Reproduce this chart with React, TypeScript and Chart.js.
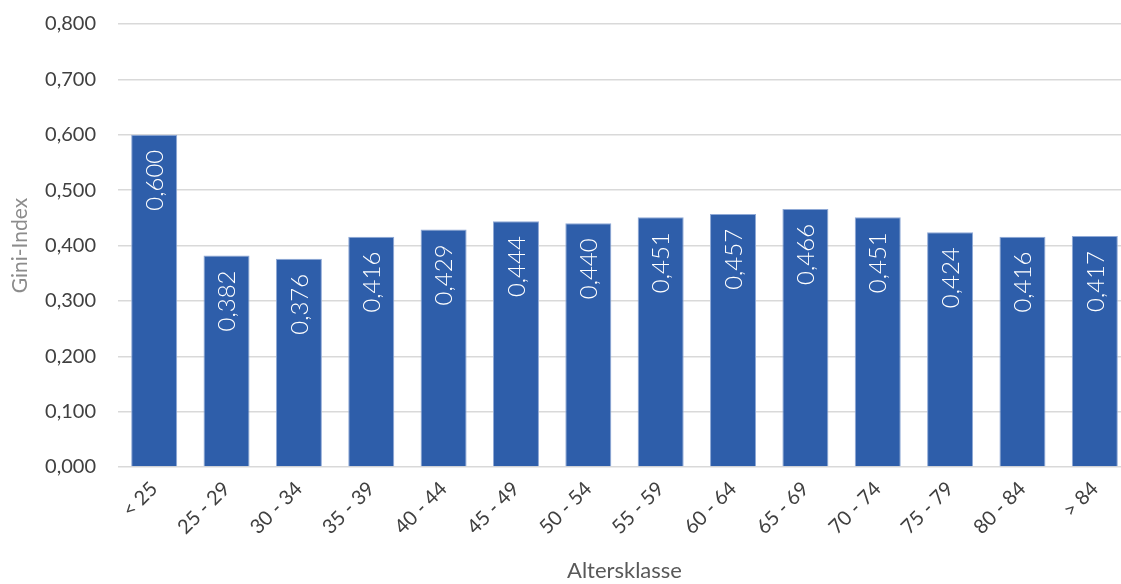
import React, { useEffect, useRef } from "react";
import { Chart, registerables } from "chart.js";

Chart.register(...registerables);

const categories = ["< 25", "25 - 29", "30 - 34", "35 - 39", "40 - 44", "45 - 49", "50 - 54", "55 - 59", "60 - 64", "65 - 69", "70 - 74", "75 - 79", "80 - 84", "> 84"];
const giniValues = [0.6, 0.382, 0.376, 0.416, 0.429, 0.444, 0.44, 0.451, 0.457, 0.466, 0.451, 0.424, 0.416, 0.417];
const yTicks = [0, 0.1, 0.2, 0.3, 0.4, 0.5, 0.6, 0.7, 0.8];

const FONT = "Lato";
const fmt = (v: number) => v.toFixed(3).replace(".", ",");

const barLabels = {
  id: "barLabels",
  afterDatasetsDraw(chart: any) {
    const ctx = chart.ctx;
    const meta = chart.getDatasetMeta(0);
    ctx.save();
    ctx.fillStyle = "#ffffff";
    ctx.font = `300 24px ${FONT}`;
    ctx.textAlign = "right";
    ctx.textBaseline = "middle";
    meta.data.forEach((bar: any, i: number) => {
      ctx.save();
      ctx.translate(bar.x, bar.y + 15);
      ctx.rotate(-Math.PI / 2);
      ctx.fillText(fmt(giniValues[i]), 0, 1);
      ctx.restore();
    });
    ctx.restore();
  },
};

export default function App() {
  const ref = useRef<HTMLCanvasElement | null>(null);
  useEffect(() => {
    document.body.style.margin = "0";
    const chart = new Chart(ref.current!, {
      type: "bar",
      data: {
        labels: categories,
        datasets: [
          {
            data: giniValues,
            backgroundColor: "#2E5EAA",
            borderColor: "#8FA9D6",
            borderWidth: 1,
            barPercentage: 0.636,
            categoryPercentage: 1,
          },
        ],
      },
      options: {
        animation: false,
        responsive: false,
        maintainAspectRatio: false,
        layout: { padding: { top: 24, right: 0, left: 0, bottom: 0 } },
        plugins: { legend: { display: false }, tooltip: { enabled: false } },
        scales: {
          x: {
            grid: { display: false, drawTicks: false },
            border: { display: false },
            ticks: {
              color: "#404040",
              font: { family: FONT, size: 20 },
              maxRotation: 45,
              minRotation: 45,
              padding: 10,
            },
            title: {
              display: true,
              text: "Altersklasse",
              color: "#595959",
              font: { family: FONT, size: 22 },
              padding: { top: 0, bottom: 0 },
            },
            afterFit: (s: any) => {
              s.height = 117;
              s.paddingLeft = 0;
              s.paddingRight = 0;
            },
          },
          y: {
            min: 0,
            max: 0.8,
            afterBuildTicks: (s: any) => {
              s.ticks = yTicks.map((v) => ({ value: v }));
            },
            grid: { color: "#d9d9d9", lineWidth: 1.5, drawTicks: false },
            border: { display: false },
            ticks: {
              color: "#404040",
              font: { family: FONT, size: 20 },
              padding: 22,
              callback: (v: any) => fmt(Number(v)),
            },
            title: {
              display: true,
              text: "Gini-Index",
              color: "#8c8c8c",
              font: { family: FONT, size: 21 },
              padding: { top: 8, bottom: 10 },
            },
            afterFit: (s: any) => {
              s.width = 118;
              s.paddingTop = 0;
              s.paddingBottom = 0;
            },
          },
        },
      },
      plugins: [barLabels],
    });
    return () => chart.destroy();
  }, []);
  return (
    <div style={{ position: "absolute", left: 0, top: 0, width: 1121, height: 584, overflow: "hidden" }}>
      <canvas ref={ref} width={1131} height={584} style={{ width: 1131, height: 584 }} />
    </div>
  );
}
